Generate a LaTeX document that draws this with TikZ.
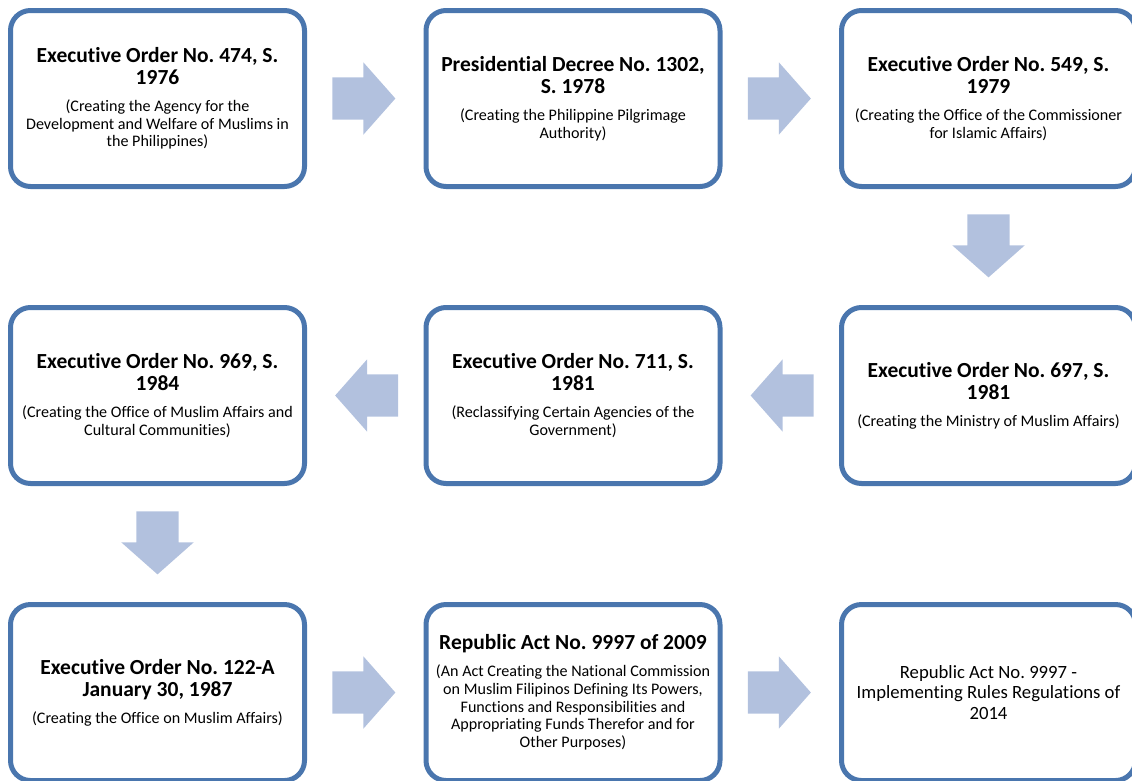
\documentclass[tikz,border=0pt]{standalone}
\usepackage{fontspec}
\setmainfont{Carlito}[Ligatures=NoCommon]
\usepackage{tikz}
\usetikzlibrary{shapes.arrows, positioning}
\usepackage{xcolor}

\definecolor{lawblue}{RGB}{74,118,174}
\definecolor{flowblue}{RGB}{178,193,222}

\newcommand{\ttlfont}{\fontsize{21.5}{22}\selectfont\bfseries}
\newcommand{\subfont}{\fontsize{16.1}{17.8}\selectfont}
\newcommand{\lawtext}[2]{\frenchspacing{\ttlfont #1\par}\vspace{9pt}{\subfont #2\par}}

\begin{document}
\begin{tikzpicture}[x=1pt, y=-1pt, node distance=297pt, on grid]
    \tikzstyle{law}=[shape=rectangle, draw=lawblue, line width=5pt, rounded corners=20pt, minimum width=294pt, minimum height=176pt, text width=292pt, align=flush center, inner sep=0pt]
    \tikzstyle{flow}=[single arrow, fill=flowblue, draw=none, minimum height=63pt, inner sep=21pt, single arrow head extend=15pt, single arrow tip angle=97]

    \useasboundingbox (0,0) rectangle (1132,780);

    % first row
    \node[law] (eo474) at (157.5,98.5) {\lawtext{Executive Order No. 474, S.\\1976}{(Creating the Agency for the\\Development and Welfare of Muslims in\\the Philippines)}};
    \node[law, right=415.5pt of eo474] (pd1302) {\lawtext{Presidential Decree No. 1302,\\S. 1978}{(Creating the Philippine Pilgrimage\\Authority)}};
    \node[law, right=415.5pt of pd1302] (eo549) {\lawtext{Executive Order No. 549, S.\\1979}{(Creating the Office of the Commissioner\\for Islamic Affairs)}};

    % second row
    \node[law, below of=eo549] (eo697) {\lawtext{Executive Order No. 697, S.\\1981}{(Creating the Ministry of Muslim Affairs)}};
    \node[law, left=415.5pt of eo697] (eo711) {\lawtext{Executive Order No. 711, S.\\1981}{(Reclassifying Certain Agencies of the\\Government)}};
    \node[law, left=415.5pt of eo711] (eo969) {\lawtext{Executive Order No. 969, S.\\1984}{(Creating the Office of Muslim Affairs and\\Cultural Communities)}};

    % third row
    \node[law, below of=eo969] (eo122) {\lawtext{Executive Order No. 122-A\\January 30, 1987}{(Creating the Office on Muslim Affairs)}};
    \node[law, right=415.5pt of eo122] (ra9997) {\lawtext{Republic Act No. 9997 of 2009}{(An Act Creating the National Commission\\on Muslim Filipinos Defining Its Powers,\\Functions and Responsibilities and\\Appropriating Funds Therefor and for\\Other Purposes)}};
    \node[law, right=415.5pt of ra9997, font=\fontsize{18.7}{20.5}\selectfont\frenchspacing] (irr) {Republic Act No. 9997 -\\Implementing Rules Regulations of\\2014};

    % block arrows
    \node[flow, right=197pt of eo474] (f1) {};
    \node[flow, right=197pt of pd1302] (f2) {};
    \node[flow, shape border rotate=270, below=138pt of eo549] (f3) {};
    \node[flow, shape border rotate=180, left=197pt of eo697] (f4) {};
    \node[flow, shape border rotate=180, left=197pt of eo711] (f5) {};
    \node[flow, shape border rotate=270, below=138pt of eo969] (f6) {};
    \node[flow, right=197pt of eo122] (f7) {};
    \node[flow, right=197pt of ra9997] (f8) {};

\end{tikzpicture}
\end{document}
